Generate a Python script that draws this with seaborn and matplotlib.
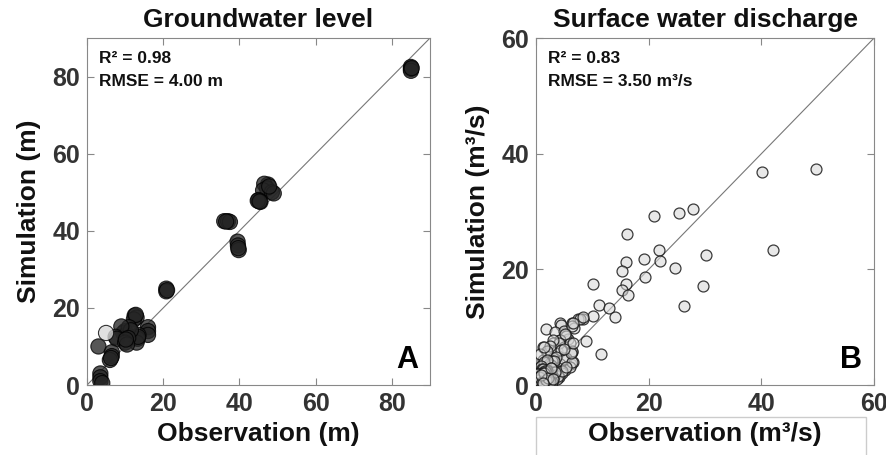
import pandas as pd
import seaborn as sns
import matplotlib.pyplot as plt
from matplotlib.patches import Rectangle

# Groundwater level (panel A): observation / simulation in m
gw_obs = [85, 85, 85, 85.2,
          47.5, 46.5, 47.2, 46.2, 48.5, 49.0, 47.8,
          45.0, 45.5, 44.8, 45.3,
          36.0, 37.0, 37.5, 36.5,
          39.5, 39.6, 39.8, 39.7,
          20.8, 20.8, 21.0,
          12.5, 13.0, 12.3, 12.8,
          16.0, 16.0, 16.0,
          13.5, 13.3, 13.0, 13.4,
          10.0, 9.5, 10.2, 11.0, 11.5, 9.0, 10.8,
          7.5, 7.8,
          10.0, 10.5, 10.2,
          3.0,
          6.5, 6.5, 6.0, 6.3,
          3.5, 3.5, 3.5, 4.0]
gw_sim = [82.5, 82.0, 81.5, 82.2,
          52.0, 52.2, 51.0, 50.5, 50.0, 49.7, 51.5,
          48.0, 47.5, 47.8, 47.6,
          42.5, 42.5, 42.3, 42.4,
          37.2, 36.2, 35.0, 35.5,
          25.0, 24.3, 24.6,
          18.0, 17.5, 17.0, 18.2,
          15.0, 14.0, 13.0,
          13.0, 12.0, 11.0, 12.5,
          14.0, 13.5, 13.0, 15.0, 14.2, 15.2, 12.2,
          12.5, 12.0,
          11.0, 10.5, 11.8,
          10.0,
          8.5, 7.5, 6.5, 7.0,
          3.0, 2.0, 1.0, 0.5]
# lighter markers
gw_light_obs = [5.0]
gw_light_sim = [13.5]

# Surface water discharge (panel B): observation / simulation in m3/s
sw_obs = [40.2, 49.7, 42.0, 27.8, 25.3, 21.0, 16.2, 21.8, 22.0, 19.2,
          15.9, 15.2, 24.6, 30.2, 29.7, 19.3, 15.9, 15.3, 16.3, 10.2,
          26.3, 11.1, 13.0, 14.0, 10.1, 11.5, 8.8, 8.3, 7.5, 6.4,
          6.7, 4.3, 4.4, 1.7, 3.3, 4.9, 5.7, 4.3, 6.4, 6.2,
          6.3, 7.8, 8.4, 6.6, 5.4, 4.3, 3.1, 2.5, 1.3, 1.9,
          3.7, 4.9, 6.0, 6.3, 5.4, 6.6, 4.3, 3.1, 1.3, 0.7,
          2.2, 3.4, 5.1, 6.0, 4.6, 2.5, 0.7, 0.1, 1.3, 0.4,
          1.9, 3.1, 4.0, 4.9, 6.3, 6.2, 6.5, 5.1, 4.1, 3.0,
          2.5, 2.0, 0.7, 1.5, 4.4, 5.0, 3.6, 2.8, 2.3, 1.8,
          0.9, 0.5, 0.3, 1.1, 1.6, 2.1, 2.6, 3.2, 3.5, 2.9,
          2.4, 1.7, 1.2, 0.8, 0.4, 0.2, 0.6, 1.0, 1.4, 2.0,
          2.7, 3.3, 3.8, 0.5, 0.9, 1.5, 2.2, 1.8, 1.1, 0.3,
          0.6, 1.3, 2.4, 3.0, 3.9, 4.6, 5.3, 2.0, 1.0, 0.7,
          0.2, 0.4, 0.6, 0.8, 1.0, 1.2, 1.4, 1.6, 1.8, 2.0,
          2.2, 2.4, 2.6, 2.8, 3.0, 0.3, 0.5, 0.7, 0.9, 1.1,
          1.3, 1.5, 1.7, 1.9, 2.1, 2.3, 2.5, 0.4, 0.8, 1.2,
          1.6, 2.0, 2.4, 2.8, 0.6, 1.0, 1.4, 1.8, 2.2, 3.4,
          0.3, 0.5, 0.7, 0.9, 1.1, 1.3, 1.5, 1.7, 1.9, 2.1,
          0.4, 0.6, 0.8, 1.0, 1.2, 1.4, 1.6, 1.8, 2.0, 2.3,
          0.2, 0.5, 0.9, 1.2, 1.6, 2.0, 2.5, 0.7, 1.1, 1.5,
          0.3, 0.6, 1.0, 1.4, 1.8, 2.2, 2.6, 3.1, 0.8, 1.3]
sw_sim = [36.8, 37.3, 23.4, 30.5, 29.7, 29.2, 26.2, 23.4, 21.5, 21.8,
          21.2, 19.7, 20.3, 22.4, 17.1, 18.6, 17.4, 16.4, 15.6, 17.5,
          13.7, 13.9, 13.3, 11.7, 11.9, 5.4, 7.6, 11.5, 11.4, 10.8,
          9.8, 10.7, 10.3, 9.7, 9.1, 9.4, 7.9, 7.8, 5.7, 3.7,
          10.2, 11.5, 11.8, 10.7, 8.5, 7.8, 7.2, 6.0, 6.6, 5.5,
          5.8, 6.6, 7.2, 5.8, 4.6, 4.0, 3.7, 4.6, 4.3, 3.2,
          3.2, 2.9, 2.6, 3.2, 2.0, 1.7, 1.7, 2.3, 0.9, 0.6,
          0.6, 0.9, 1.4, 4.5, 4.0, 5.5, 7.2, 8.8, 7.3, 7.7,
          6.8, 5.9, 5.4, 6.5, 6.1, 6.3, 4.9, 4.1, 3.6, 2.8,
          2.2, 1.4, 0.8, 1.2, 1.9, 2.6, 3.4, 4.2, 2.4, 1.5,
          1.0, 0.5, 0.3, 0.2, 0.9, 1.6, 2.1, 2.9, 3.9, 4.4,
          3.0, 1.8, 1.1, 2.5, 3.3, 0.4, 0.7, 1.2, 1.9, 1.3,
          0.1, 0.2, 0.6, 1.0, 1.6, 2.4, 3.1, 0.4, 2.8, 1.5,
          0.5, 1.1, 0.3, 1.7, 0.6, 2.2, 0.9, 1.4, 0.4, 2.6,
          1.0, 0.5, 1.8, 0.7, 1.2, 1.5, 0.8, 2.0, 0.3, 1.3,
          0.6, 2.4, 0.9, 0.4, 1.6, 0.7, 1.1, 1.9, 0.2, 2.8,
          0.5, 0.8, 1.3, 0.6, 0.3, 2.1, 1.0, 0.4, 1.4, 2.2,
          0.8, 0.3, 1.5, 0.6, 2.0, 0.4, 1.1, 0.7, 2.5, 0.2,
          1.3, 0.9, 0.5, 1.8, 0.3, 1.0, 0.6, 2.2, 1.4, 0.8,
          1.9, 0.4, 1.2, 0.7, 2.4, 1.0, 0.5, 1.6, 0.3, 2.0,
          0.9, 1.4, 0.5, 2.1, 0.8, 1.3, 3.0, 1.1, 1.7, 0.4]

sns.set_theme(style="white")
plt.rcParams["font.family"] = ["Liberation Sans", "DejaVu Sans"]
plt.rcParams["font.weight"] = "bold"

gw = pd.DataFrame({"obs": gw_obs + gw_light_obs,
                   "sim": gw_sim + gw_light_sim,
                   "tone": ["dark"] * len(gw_obs) + ["light"] * len(gw_light_obs)})
sw = pd.DataFrame({"obs": sw_obs, "sim": sw_sim})

fig = plt.figure(figsize=(8.87, 4.55), dpi=100)
ax1 = fig.add_axes([0.0981, 0.1538, 0.3867, 0.7626])
ax2 = fig.add_axes([0.6043, 0.1538, 0.3811, 0.7626])

sns.scatterplot(data=gw, x="obs", y="sim", hue="tone",
                palette={"dark": "#262626", "light": "#d8d8d8"},
                s=120, alpha=0.78, edgecolor="black", linewidth=0.8,
                legend=False, ax=ax1, zorder=3)
sns.scatterplot(data=sw, x="obs", y="sim", color=(0.84, 0.84, 0.84, 0.55),
                s=62, edgecolor=(0.1, 0.1, 0.1, 0.85), linewidth=0.9,
                legend=False, ax=ax2, zorder=3)

panels = [
    (ax1, 90, [0, 20, 40, 60, 80], "Groundwater level", "Observation (m)",
     "Simulation (m)", "R² = 0.98", "RMSE = 4.00 m", "A"),
    (ax2, 60, [0, 20, 40, 60], "Surface water discharge", "Observation (m³/s)",
     "Simulation (m³/s)", "R² = 0.83", "RMSE = 3.50 m³/s", "B"),
]
for ax, lim, ticks, title, xl, yl, r2, rmse, letter in panels:
    ax.axline((0, 0), slope=1, color="#777777", lw=0.8, zorder=2)
    ax.set_xlim(0, lim)
    ax.set_ylim(0, lim)
    ax.set_xticks(ticks)
    ax.set_yticks(ticks)
    ax.tick_params(direction="in", length=5, width=0.8, color="#888888",
                   labelsize=18, labelcolor="#333333", top=True, right=True,
                   bottom=True, left=True, pad=5)
    for lab in ax.get_xticklabels() + ax.get_yticklabels():
        lab.set_fontweight("bold")
    for sp in ax.spines.values():
        sp.set_color("#888888")
        sp.set_linewidth(0.8)
    ax.set_title(title, fontsize=19, fontweight="bold", pad=8, color="#111111")
    ax.set_xlabel(xl, fontsize=19, fontweight="bold", labelpad=4, color="#111111")
    ax.set_ylabel(yl, fontsize=19, fontweight="bold", labelpad=8, color="#111111")
    ax.text(0.035, 0.94, r2, transform=ax.transAxes, fontsize=12.5,
            fontweight="bold", va="center", ha="left", color="#111111")
    ax.text(0.035, 0.875, rmse, transform=ax.transAxes, fontsize=12.5,
            fontweight="bold", va="center", ha="left", color="#111111")
    ax.text(0.965, 0.03, letter, transform=ax.transAxes, fontsize=22,
            fontweight="bold", va="bottom", ha="right", color="black")

# faint frame under the right x label
fig.patches.append(Rectangle((0.6043, -0.01), 0.372, 0.094, transform=fig.transFigure,
                             fill=False, edgecolor="#cccccc", lw=1))

fig.savefig("out.png", dpi=100)
